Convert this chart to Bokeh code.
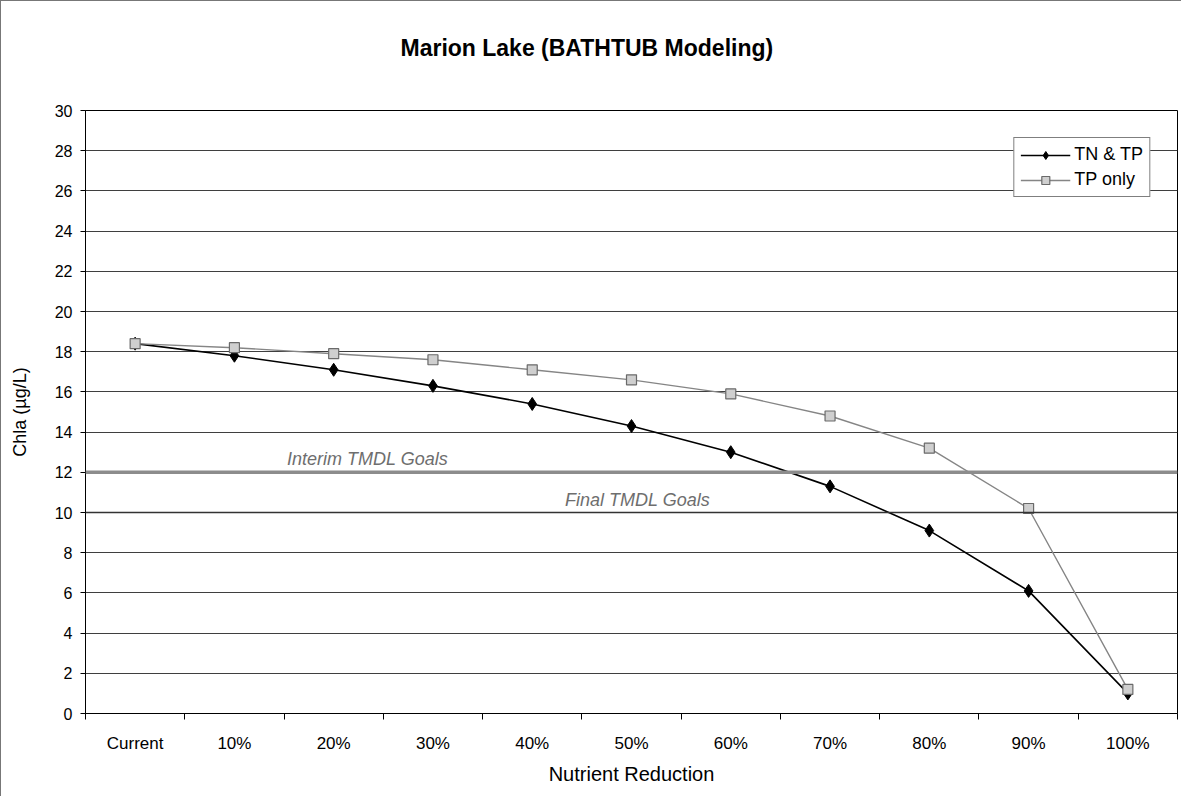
from bokeh.plotting import figure
from bokeh.models import (FixedTicker, Label, Span, Legend, LegendItem,
                          ColumnDataSource, Range1d, Title)
from bokeh.embed import file_html
from bokeh.resources import INLINE

# ---- data -------------------------------------------------------------
categories = ["Current", "10%", "20%", "30%", "40%", "50%",
              "60%", "70%", "80%", "90%", "100%"]
tn_tp = [18.4, 17.8, 17.1, 16.3, 15.4, 14.3, 13.0, 11.3, 9.1, 6.1, 1.0]
tp_only = [18.4, 18.2, 17.9, 17.6, 17.1, 16.6, 15.9, 14.8, 13.2, 10.2, 1.2]
y_ticks = list(range(0, 31, 2))
interim_goal = 12
final_goal = 10

FONT = "Liberation Sans"

# category slots on a numeric axis (one unit per category)
xs = [i + 0.5 for i in range(len(categories))]
src = ColumnDataSource(dict(x=xs, cat=categories, tn=tn_tp, tp=tp_only))

p = figure(width=1181, height=796, output_backend="svg", toolbar_location=None,
           x_range=Range1d(0, len(categories)), y_range=Range1d(0, 30),
           min_border_left=84, min_border_right=5,
           min_border_top=109, min_border_bottom=84)
p.styles = {"border-left": "1px solid #777", "border-top": "1px solid #777"}

# spacer between the title and the plot frame
p.add_layout(Title(text=" ", text_font=FONT, text_font_size="20px",
                   standoff=26), "above")

# title
p.title.text = "Marion Lake (BATHTUB Modeling)"
p.title.text_font = FONT
p.title.text_font_size = "23px"
p.title.text_font_style = "bold"
p.title.text_color = "black"
p.title.align = "left"
p.title.offset = 315
p.title.standoff = 0

p.outline_line_color = "black"
p.outline_line_width = 1

# grid
p.xgrid.visible = False
p.ygrid.ticker = FixedTicker(ticks=y_ticks)
p.ygrid.grid_line_color = "#3f3f3f"
p.ygrid.grid_line_width = 1.2

# goal lines
p.add_layout(Span(location=interim_goal, dimension="width",
                  line_color="#8c8c8c", line_width=3.5))
p.add_layout(Span(location=final_goal, dimension="width",
                  line_color="#333333", line_width=1.6))

# axes
xa = p.xaxis[0]
xa.ticker = FixedTicker(ticks=xs, minor_ticks=list(range(len(categories) + 1)))
xa.major_label_overrides = {x: c for x, c in zip(xs, categories)}
xa.major_tick_out = 0
xa.major_tick_in = 0
xa.minor_tick_out = 6
xa.minor_tick_in = 0
xa.minor_tick_line_color = "black"
xa.axis_line_color = "black"
xa.major_label_standoff = 14
xa.major_label_text_font = FONT
xa.major_label_text_font_size = "17px"
xa.major_label_text_color = "black"
xa.axis_label = "Nutrient Reduction"
xa.axis_label_text_font = FONT
xa.axis_label_text_font_size = "20px"
xa.axis_label_text_font_style = "normal"
xa.axis_label_text_color = "black"
xa.axis_label_standoff = 7

ya = p.yaxis[0]
ya.ticker = FixedTicker(ticks=y_ticks)
ya.major_tick_out = 5
ya.major_tick_in = 0
ya.minor_tick_out = 0
ya.minor_tick_in = 0
ya.major_tick_line_color = "black"
ya.axis_line_color = "black"
ya.major_label_standoff = 8
ya.major_label_text_font = FONT
ya.major_label_text_font_size = "16px"
ya.major_label_text_color = "black"
ya.axis_label = "Chla (µg/L)"
ya.axis_label_text_font = FONT
ya.axis_label_text_font_size = "18px"
ya.axis_label_text_font_style = "normal"
ya.axis_label_text_color = "black"
ya.axis_label_standoff = 22

# series
l1 = p.line("x", "tn", source=src, line_color="black", line_width=1.6)
s1 = p.scatter("x", "tn", source=src, marker="diamond", size=13,
               fill_color="black", line_color="black")
l2 = p.line("x", "tp", source=src, line_color="#858585", line_width=1.4)
s2 = p.scatter("x", "tp", source=src, marker="square", size=10,
               fill_color="#cfcfcf", line_color="#6a6a6a", line_width=1.2)

# goal annotations
p.add_layout(Label(x=2.03, y=interim_goal, y_offset=3, text="Interim TMDL Goals",
                   text_font=FONT, text_font_size="18px", text_font_style="italic",
                   text_color="#6e6e6e", text_baseline="bottom"))
p.add_layout(Label(x=4.83, y=final_goal, y_offset=3, text="Final TMDL Goals",
                   text_font=FONT, text_font_size="18px", text_font_style="italic",
                   text_color="#6e6e6e", text_baseline="bottom"))

legend = Legend(items=[LegendItem(label="TN & TP", renderers=[l1, s1]),
                       LegendItem(label="TP only", renderers=[l2, s2])],
                location="top_right", margin=27,
                border_line_color="black", border_line_width=1,
                padding=6, spacing=4, glyph_width=50, glyph_height=20,
                label_standoff=4, label_text_font=FONT,
                label_text_font_size="18px", label_text_color="black",
                background_fill_color="white", background_fill_alpha=1)
p.add_layout(legend)

open("out.html", "w").write(file_html(p, INLINE))
